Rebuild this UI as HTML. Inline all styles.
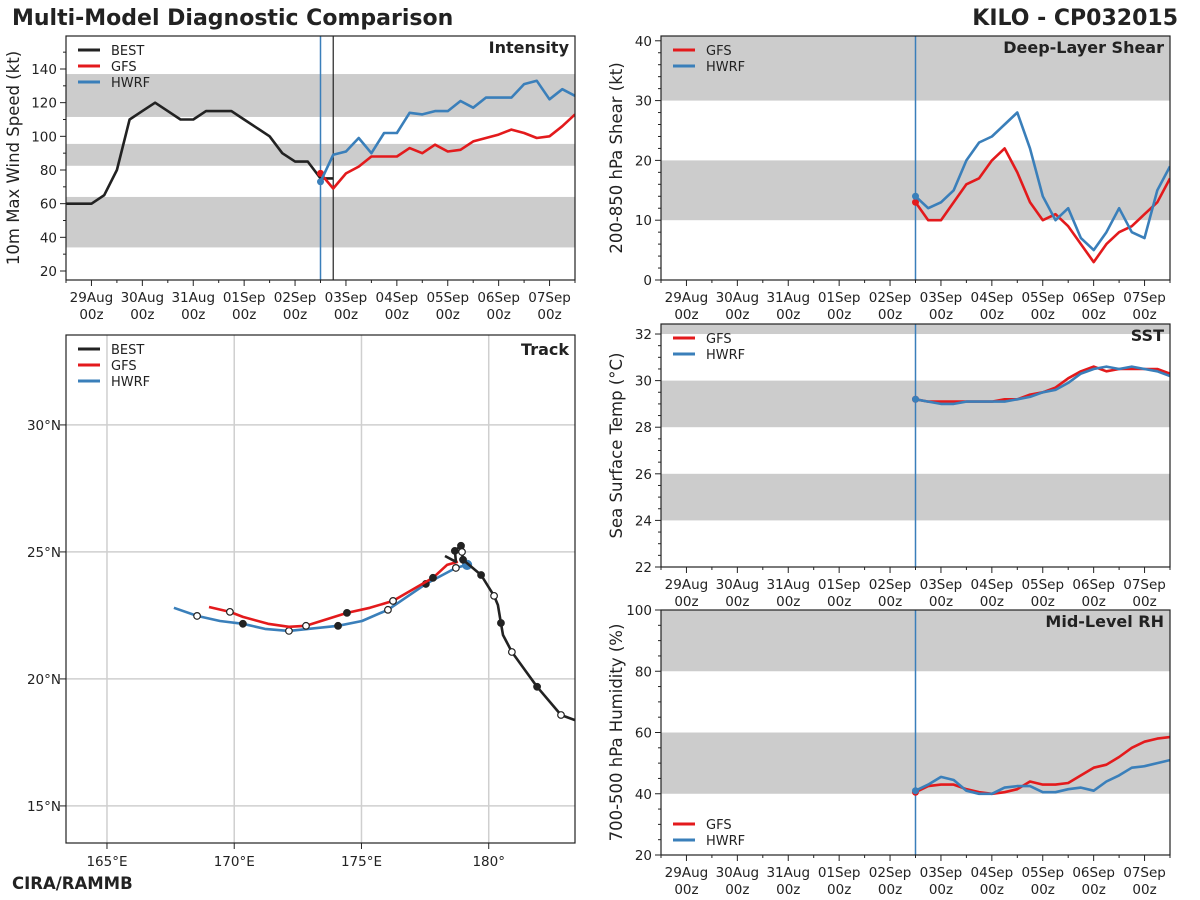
<!DOCTYPE html>
<html><head><meta charset="utf-8"><style>
body{margin:0;background:#fff;}
svg{display:block;font-family:"DejaVu Sans","Liberation Sans",sans-serif;}
</style></head><body>
<svg id="chart" width="1200" height="900" viewBox="0 0 1200 900" xmlns="http://www.w3.org/2000/svg">
<text x="12" y="25" font-size="22" font-weight="bold" fill="#222">Multi-Model Diagnostic Comparison</text>
<text x="1178" y="25" font-size="22" font-weight="bold" fill="#222" text-anchor="end">KILO - CP032015</text>
<text x="12" y="889" font-size="16.5" font-weight="bold" fill="#222">CIRA/RAMMB</text>
</svg>
<script>
// ---- data (hours from 29Aug 00z, 6-hourly) ----
const dayLabels = ["29Aug","30Aug","31Aug","01Sep","02Sep","03Sep","04Sep","05Sep","06Sep","07Sep"];
const bestHours0 = -12;
const bestInt = [60,60,60,65,80,110,115,120,115,110,110,115,115,115,110,105,100,90,85,85,75,75];
const modelHours0 = 108;
const gfsInt = [78,69,78,82,88,88,88,93,90,95,91,92,97,99,101,104,102,99,100,106,113];
const hwrfInt = [73,89,91,99,90,102,102,114,113,115,115,121,117,123,123,123,131,133,122,128,124];
const gfsShear = [13,10,10,13,16,17,20,22,18,13,10,11,9,6,3,6,8,9,11,13,17];
const hwrfShear = [14,12,13,15,20,23,24,26,28,22,14,10,12,7,5,8,12,8,7,15,19];
const gfsSST = [29.2,29.1,29.1,29.1,29.1,29.1,29.1,29.2,29.2,29.4,29.5,29.7,30.1,30.4,30.6,30.4,30.5,30.5,30.5,30.5,30.3];
const hwrfSST = [29.2,29.1,29.0,29.0,29.1,29.1,29.1,29.1,29.2,29.3,29.5,29.6,29.9,30.3,30.5,30.6,30.5,30.6,30.5,30.4,30.2];
const gfsRH = [40.5,42.5,43,43,41.5,40.5,40,40.5,41.5,44,43,43,43.5,46,48.5,49.5,52,55,57,58,58.5];
const hwrfRH = [41,43,45.5,44.5,41,40,40,42,42.5,42.5,40.5,40.5,41.5,42,41,44,46,48.5,49,50,51];
// track
const bestLon = [178.28,178.71,178.67,178.91,178.95,178.99,179.70,180.21,180.36,180.48,180.56,180.91,181.42,181.90,182.84,183.6];
const bestLat = [24.84,24.61,25.04,25.24,25.00,24.69,24.09,23.27,22.91,22.20,21.73,21.06,20.35,19.69,18.58,18.30];
const bestMark = [0,0,1,1,2,1,1,2,0,1,0,2,0,1,2,0];
const gfsLon = [178.79,178.36,177.81,176.24,175.33,174.43,172.82,172.15,171.33,170.34,169.83,169.01];
const gfsLat = [24.61,24.49,23.98,23.07,22.80,22.60,22.09,22.05,22.17,22.44,22.64,22.83];
const gfsMark = [0,0,1,2,0,1,2,0,0,0,2,0];
const hwrfLon = [179.15,178.71,177.53,176.04,175.02,174.08,172.15,171.21,170.34,169.44,168.54,167.63];
const hwrfLat = [24.49,24.37,23.74,22.72,22.28,22.09,21.89,21.97,22.17,22.28,22.48,22.80];
const hwrfMark = [3,2,1,2,0,1,2,0,1,0,2,0];
const lonTicks = [165,170,175,180];
const lonTickLabels = ["165°E","170°E","175°E","180°"];
const latTicks = [15,20,25,30];
const latTickLabels = ["15°N","20°N","25°N","30°N"];

const C = {best:"#222222", gfs:"#e31a1c", hwrf:"#3a7fba", band:"#cccccc"};
const NS = "http://www.w3.org/2000/svg";
const svg = document.getElementById("chart");
function mk(tag, attrs, parent, text){
  const e = document.createElementNS(NS, tag);
  for (const k in attrs) e.setAttribute(k, attrs[k]);
  if (text !== undefined) e.textContent = text;
  (parent||svg).appendChild(e); return e;
}

function timePanel(p){
  const g = mk("g", {});
  
  
  const xs = h => p.x0 + (h + 12) / 240 * p.w;
  const ys = v => p.y0 + p.h - (v - p.ymin) / (p.ymax - p.ymin) * p.h;
  const clipId = "clip-" + p.name;
  const cp = mk("clipPath", {id: clipId}, g);
  mk("rect", {x:p.x0, y:p.y0, width:p.w, height:p.h}, cp);
  p.bands.forEach(b => {
    const y1 = ys(Math.min(b[1], p.ymax)), y2 = ys(Math.max(b[0], p.ymin));
    const r = mk("rect", {x:p.x0, y:y1, width:p.w, height:y2-y1, fill:C.band}, g);
    
    
  });
  for (let v = Math.ceil(p.ymin / p.minor) * p.minor; v <= p.ymax + 1e-9; v += p.minor) {
    const y = ys(v), major = Math.abs(v / p.major - Math.round(v / p.major)) < 1e-6;
    mk("line", {x1:p.x0 - (major?6:3), x2:p.x0, y1:y, y2:y, stroke:"#222", "stroke-width":1}, g);
    if (major) {
      const t = mk("text", {x:p.x0 - 9, y:y + 5, "font-size":13.5, "text-anchor":"end", fill:"#222"}, g, String(Math.round(v)));
      
      
    }
  }
  dayLabels.forEach((d, i) => {
    const x = xs(i * 24);
    mk("line", {x1:x, x2:x, y1:p.y0 + p.h, y2:p.y0 + p.h + 6, stroke:"#222"}, g);
    const t = mk("text", {x:x, y:p.y0 + p.h + 22, "font-size":13.5, "text-anchor":"middle", fill:"#222"}, g, d);
    
    
    mk("text", {x:x, y:p.y0 + p.h + 39, "font-size":13.5, "text-anchor":"middle", fill:"#222"}, g, "00z");
  });
  for (let h = -12; h <= 228; h += 12) {
    if (h % 24 === 0) continue;
    const x = xs(h);
    mk("line", {x1:x, x2:x, y1:p.y0 + p.h, y2:p.y0 + p.h + 3, stroke:"#222"}, g);
  }
  const vl = mk("line", {x1:xs(108), x2:xs(108), y1:p.y0, y2:p.y0 + p.h, stroke:C.hwrf, "stroke-width":1.5}, g);
  
  
  if (p.bestLine) mk("line", {x1:xs(114), x2:xs(114), y1:p.y0, y2:p.y0 + p.h, stroke:"#222", "stroke-width":1.2}, g);
  p.series.forEach(s => {
    const pts = s.data.map((v, i) => xs(s.h0 + i * 6).toFixed(1) + "," + ys(v).toFixed(1)).join(" ");
    const pl = mk("polyline", {points:pts, fill:"none", stroke:s.color, "stroke-width":2.6, "stroke-linejoin":"round", "clip-path":"url(#" + clipId + ")"}, g);
    
    
    if (s.dot) {
      const c = mk("circle", {cx:xs(s.h0), cy:ys(s.data[0]), r:3.5, fill:s.color}, g);
      
      
    }
  });
  mk("rect", {x:p.x0, y:p.y0, width:p.w, height:p.h, fill:"none", stroke:"#222", "stroke-width":1.2}, g);
  const tt = mk("text", {x:p.x0 + p.w - 6, y:p.y0 + 17, "font-size":16, "font-weight":"bold", "text-anchor":"end", fill:"#222"}, g, p.title);
  
  
  const yl = mk("text", {x:0, y:0, "font-size":16.5, "text-anchor":"middle", fill:"#222", transform:"translate(" + p.ylx + "," + (p.y0 + p.h / 2) + ") rotate(-90)"}, g, p.ylabel);
  
  
  legend(g, p.x0 + 12, p.legY, p.legend);
}
function legend(g, x, y, items){
  items.forEach((it, i) => {
    const lg = mk("g", {}, g);
    
    
    mk("line", {x1:x, x2:x + 22, y1:y + i * 16, y2:y + i * 16, stroke:it[1], "stroke-width":3}, lg);
    mk("text", {x:x + 33, y:y + i * 16 + 5, "font-size":13, fill:"#222"}, lg, it[0]);
  });
}
const LB = ["BEST", C.best], LG = ["GFS", C.gfs], LH = ["HWRF", C.hwrf];
timePanel({name:"intensity-panel", x0:66, y0:36, w:509, h:244, ymin:14.65, ymax:159.6, major:20, minor:10,
  bands:[[34,64],[82.5,95.5],[111.5,137]], title:"Intensity", ylabel:"10m Max Wind Speed (kt)", ylx:19, bestLine:true,
  legY:50, legend:[LB,LG,LH],
  series:[{key:"best",data:bestInt,h0:bestHours0,color:C.best},{key:"gfs",data:gfsInt,h0:modelHours0,color:C.gfs,dot:true},{key:"hwrf",data:hwrfInt,h0:modelHours0,color:C.hwrf,dot:true}]});
timePanel({name:"shear-panel", x0:661, y0:36, w:509, h:244, ymin:0, ymax:40.8, major:10, minor:2,
  bands:[[10,20],[30,45]], title:"Deep-Layer Shear", ylabel:"200-850 hPa Shear (kt)", ylx:622,
  legY:50, legend:[LG,LH],
  series:[{key:"gfs",data:gfsShear,h0:modelHours0,color:C.gfs,dot:true},{key:"hwrf",data:hwrfShear,h0:modelHours0,color:C.hwrf,dot:true}]});
timePanel({name:"sst-panel", x0:661, y0:324, w:509, h:243, ymin:22, ymax:32.43, major:2, minor:0.5,
  bands:[[24,26],[28,30],[32,34]], title:"SST", ylabel:"Sea Surface Temp (°C)", ylx:622,
  legY:338, legend:[LG,LH],
  series:[{key:"gfs",data:gfsSST,h0:modelHours0,color:C.gfs,dot:true},{key:"hwrf",data:hwrfSST,h0:modelHours0,color:C.hwrf,dot:true}]});
timePanel({name:"rh-panel", x0:661, y0:610, w:509, h:245, ymin:20, ymax:100, major:20, minor:5,
  bands:[[40,60],[80,100]], title:"Mid-Level RH", ylabel:"700-500 hPa Humidity (%)", ylx:622,
  legY:824, legend:[LG,LH],
  series:[{key:"gfs",data:gfsRH,h0:modelHours0,color:C.gfs,dot:true},{key:"hwrf",data:hwrfRH,h0:modelHours0,color:C.hwrf,dot:true}]});

(function(){
  const x0 = 66, y0 = 335, w = 509, h = 508;
  const lonMin = 163.39, lonMax = 183.39, latMin = 13.54, latMax = 33.54;
  const xs = lon => x0 + (lon - lonMin) / (lonMax - lonMin) * w;
  const ys = lat => y0 + h - (lat - latMin) / (latMax - latMin) * h;
  const g = mk("g", {});
  
  
  const cp = mk("clipPath", {id:"clip-track"}, g);
  mk("rect", {x:x0, y:y0, width:w, height:h}, cp);
  lonTicks.forEach((lon, i) => {
    const x = xs(lon);
    const gl = mk("line", {x1:x, x2:x, y1:y0, y2:y0 + h, stroke:"#cfcfcf", "stroke-width":1.5}, g);
    
    
    mk("line", {x1:x, x2:x, y1:y0 + h, y2:y0 + h + 6, stroke:"#222"}, g);
    const t = mk("text", {x:x, y:y0 + h + 23, "font-size":13.5, "text-anchor":"middle", fill:"#222"}, g, lonTickLabels[i]);
    
    
  });
  latTicks.forEach((lat, i) => {
    const y = ys(lat);
    const gl = mk("line", {x1:x0, x2:x0 + w, y1:y, y2:y, stroke:"#cfcfcf", "stroke-width":1.5}, g);
    
    
    mk("line", {x1:x0 - 6, x2:x0, y1:y, y2:y, stroke:"#222"}, g);
    const t = mk("text", {x:x0 - 5, y:y + 5, "font-size":13.5, "text-anchor":"end", fill:"#222"}, g, latTickLabels[i]);
    
    
  });
  function track(key, lons, lats, marks, color){
    const pts = lons.map((lo, i) => xs(lo).toFixed(1) + "," + ys(lats[i]).toFixed(1)).join(" ");
    const pl = mk("polyline", {points:pts, fill:"none", stroke:color, "stroke-width":2.6, "stroke-linejoin":"round", "clip-path":"url(#clip-track)"}, g);
    
    
    lons.forEach((lo, i) => {
      if (!marks[i]) return;
      const fill = marks[i] === 1 ? "#222" : marks[i] === 3 ? C.hwrf : "#fff";
      const c = mk("circle", {cx:xs(lo), cy:ys(lats[i]), r:marks[i] === 3 ? 4.5 : 3.3, fill:fill, stroke:marks[i] === 3 ? C.hwrf : "#222", "stroke-width":1.2, "clip-path":"url(#clip-track)"}, g);
      
      
    });
  }
  track("hwrf", hwrfLon, hwrfLat, hwrfMark, C.hwrf);
  track("gfs", gfsLon, gfsLat, gfsMark, C.gfs);
  track("best", bestLon, bestLat, bestMark, C.best);
  mk("rect", {x:x0, y:y0, width:w, height:h, fill:"none", stroke:"#222", "stroke-width":1.2}, g);
  const tt = mk("text", {x:x0 + w - 6, y:y0 + 20, "font-size":16, "font-weight":"bold", "text-anchor":"end", fill:"#222"}, g, "Track");
  
  
  legend(g, x0 + 12, 349, [LB, LG, LH]);
})();
</script>
</body></html>
